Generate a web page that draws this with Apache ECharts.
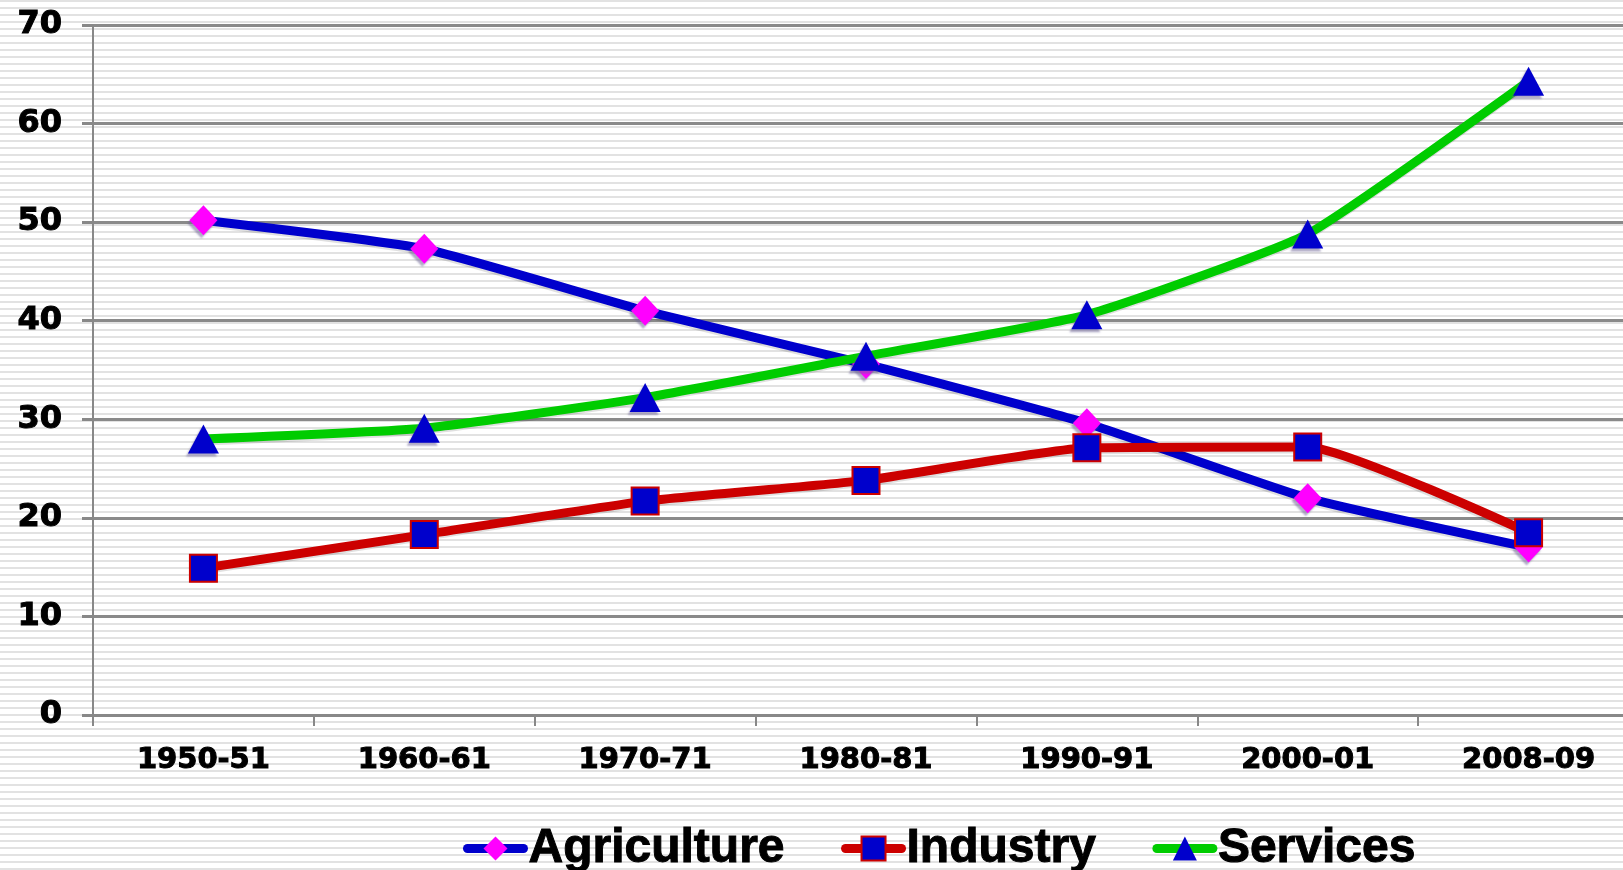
<!DOCTYPE html>
<html>
<head>
<meta charset="utf-8">
<script src="https://cdn.jsdelivr.net/npm/echarts@6/dist/echarts.min.js"></script>
<style>
html,body{margin:0;padding:0;background:#fff;overflow:hidden;}
#chart{width:1639px;height:870px;}
</style>
</head>
<body>
<div id="chart"></div>
<script>
const categories = ['1950-51','1960-61','1970-71','1980-81','1990-91','2000-01','2008-09'];
const agriculture = [50.2, 47.3, 41.0, 35.6, 29.6, 22.0, 17.0];
const industry = [14.9, 18.3, 21.7, 23.8, 27.1, 27.2, 18.5];
const services = [28.0, 29.1, 32.2, 36.4, 40.6, 48.8, 64.3];
const yTicks = [0, 10, 20, 30, 40, 50, 60, 70];

// striped background pattern
const pc = document.createElement('canvas');
pc.width = 8; pc.height = 7;
const ctx = pc.getContext('2d');
ctx.fillStyle = '#ffffff'; ctx.fillRect(0,0,8,7);
ctx.fillStyle = '#e2e2e2'; ctx.fillRect(0,0,8,2);

const chart = echarts.init(document.getElementById('chart'));
const axisFont = {fontFamily:'DejaVu Sans', fontWeight:'bold', color:'#000', textBorderColor:'#000', textBorderWidth:1};
const markerShadow = {shadowColor:'rgba(110,100,150,0.55)', shadowBlur:2, shadowOffsetX:-2, shadowOffsetY:3};
const lineShadow = {shadowColor:'rgba(0,0,0,0.12)', shadowBlur:0, shadowOffsetX:-1, shadowOffsetY:2};

chart.setOption({
  animation:false,
  backgroundColor:{image:pc, repeat:'repeat'},
  grid:{left:93, top:25, right:0, bottom:155, containLabel:false},
  xAxis:{
    type:'category', data:categories, boundaryGap:true,
    axisLine:{lineStyle:{color:'#888', width:3}},
    axisTick:{show:true, length:11, lineStyle:{color:'#888', width:2}},
    axisLabel:Object.assign({fontSize:29, margin:31}, axisFont),
    splitLine:{show:false}
  },
  yAxis:{
    type:'value', min:yTicks[0], max:yTicks[yTicks.length-1], interval:10,
    axisLine:{show:true, lineStyle:{color:'#888', width:2}},
    axisTick:{show:true, length:11, lineStyle:{color:'#888', width:3}},
    axisLabel:Object.assign({fontSize:32, margin:31}, axisFont),
    splitLine:{show:true, lineStyle:{color:'#8a8a8a', width:3}}
  },
  legend:{
    left:458, top:819, itemGap:56, itemWidth:56, itemHeight:30,
    lineStyle:{width:9, cap:'round'},
    textStyle:{fontFamily:'Liberation Sans', fontWeight:'bold', fontSize:48, color:'#000', textBorderColor:'#000', textBorderWidth:1, padding:[0,0,0,0]},
    data:['Agriculture','Industry','Services']
  },
  series:[
    {name:'Agriculture', type:'line', data:agriculture, symbol:'diamond', symbolSize:[28,30], smooth:0.15,
     lineStyle:Object.assign({color:'#0000cc', width:9}, lineShadow), itemStyle:Object.assign({color:'#ff00ff'}, markerShadow), z:2},
    {name:'Industry', type:'line', data:industry, symbol:'rect', symbolSize:[27,27], smooth:0.15,
     lineStyle:Object.assign({color:'#cc0000', width:9}, lineShadow), itemStyle:{color:'#0000cc', borderColor:'#cc0000', borderWidth:2}, z:3},
    {name:'Services', type:'line', data:services, symbol:'triangle', symbolSize:[31,29], smooth:0.15,
     lineStyle:Object.assign({color:'#00cc00', width:9}, lineShadow), itemStyle:Object.assign({color:'#0000cc'}, markerShadow), z:4}
  ]
});
</script>
</body>
</html>
